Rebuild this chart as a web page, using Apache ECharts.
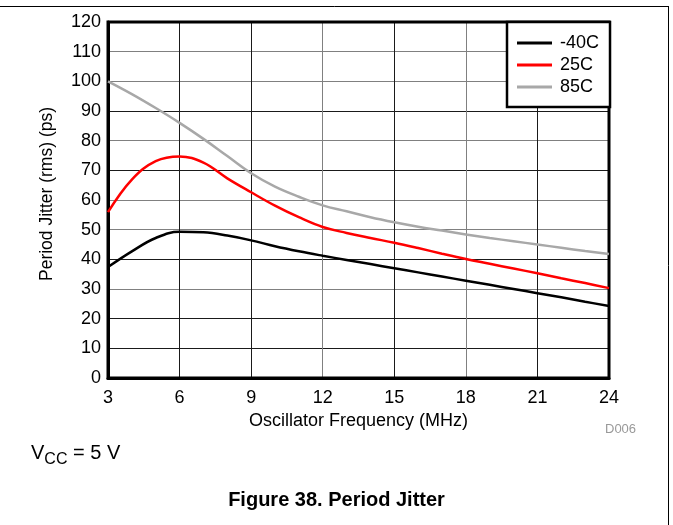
<!DOCTYPE html>
<html>
<head>
<meta charset="utf-8">
<script src="https://cdn.jsdelivr.net/npm/echarts@6/dist/echarts.min.js"></script>
<style>
html,body{margin:0;padding:0;background:#fff;}
#chart{width:673px;height:525px;}
</style>
</head>
<body>
<div id="chart"></div>
<script>
// Data
const freqMHz   = [3, 4, 5, 6, 7, 8, 9, 10, 11, 12, 13, 14, 15, 16, 17, 18, 19, 20, 21, 22, 23, 24];
const jitterM40 = [37.4, 42.7, 47.2, 49.3, 49.1, 48.0, 46.4, 44.4, 42.7, 41.2, 39.8, 38.4, 37.0, 35.6, 34.2, 32.8, 31.4, 30.0, 28.6, 27.2, 25.7, 24.3];
const jitter25  = [55.9, 66.9, 73.1, 74.7, 72.6, 67.3, 62.6, 58.1, 54.2, 50.9, 48.9, 47.2, 45.6, 43.8, 41.9, 40.1, 38.5, 36.9, 35.3, 33.6, 32.0, 30.3];
const jitter85  = [100, 95.7, 91.0, 86.0, 80.6, 74.8, 69.0, 64.5, 61.1, 58.2, 56.2, 54.2, 52.5, 51.0, 49.7, 48.4, 47.2, 46.1, 45.0, 43.9, 42.8, 41.8];
const seriesNames = ['-40C', '25C', '85C'];
const xTicks = [3, 6, 9, 12, 15, 18, 21, 24];
const yTicks = [0, 10, 20, 30, 40, 50, 60, 70, 80, 90, 100, 110, 120];

function pairs(ys) { return freqMHz.map((x, i) => [x, ys[i]]); }

const chart = echarts.init(document.getElementById('chart'));
const F = 'Liberation Sans, Arial, sans-serif';
const K = '#1a1a1a', G = '#808080';

chart.setOption({
  animation: false,
  backgroundColor: '#fff',
  grid: { left: 108, right: 64, top: 22, bottom: 147, show: true, borderColor: '#000', borderWidth: 3, z: 3 },
  legend: {
    data: seriesNames,
    orient: 'vertical',
    left: 507, top: 22,
    icon: 'rect',
    itemWidth: 35, itemHeight: 3,
    itemGap: 4,
    padding: [12, 11, 11, 10],
    backgroundColor: '#fff',
    borderColor: '#000', borderWidth: 2.5,
    textStyle: { fontFamily: F, fontSize: 18, color: '#000', lineHeight: 18, padding: [0, 0, 0, 3] },
    z: 10
  },
  xAxis: {
    type: 'value', min: 3, max: 24, interval: 3,
    name: 'Oscillator Frequency (MHz)', nameLocation: 'middle', nameGap: 32,
    nameTextStyle: { fontFamily: F, fontSize: 18, color: '#000' },
    axisLine: { show: true, lineStyle: { color: '#000', width: 3 } },
    axisTick: { show: false },
    axisLabel: { fontFamily: F, fontSize: 18, color: '#000', margin: 11,
      formatter: v => xTicks.includes(v) ? String(v) : '' },
    splitLine: { show: true, lineStyle: { color: [K, K, K, G, K, G, K, K], width: 1 } }
  },
  yAxis: {
    type: 'value', min: 0, max: 120, interval: 10,
    name: 'Period Jitter (rms) (ps)', nameLocation: 'middle', nameGap: 52,
    nameTextStyle: { fontFamily: F, fontSize: 17.5, color: '#000', padding: [0, 0, 0, 12] },
    axisLine: { show: true, lineStyle: { color: '#000', width: 3 } },
    axisTick: { show: false },
    axisLabel: { fontFamily: F, fontSize: 18, color: '#000', margin: 7,
      formatter: v => yTicks.includes(v) ? String(v) : '' },
    splitLine: { show: true, lineStyle: { color: [K, K, K, G, K, G, G, K, G, K, G, G, K], width: 1 } }
  },
  series: [
    { name: seriesNames[0], type: 'line', data: pairs(jitterM40), smooth: 0.4, showSymbol: false,
      lineStyle: { color: '#000', width: 2.5 }, itemStyle: { color: '#000' }, z: 5 },
    { name: seriesNames[1], type: 'line', data: pairs(jitter25), smooth: 0.4, showSymbol: false,
      lineStyle: { color: '#ff0000', width: 2.5 }, itemStyle: { color: '#ff0000' }, z: 5 },
    { name: seriesNames[2], type: 'line', data: pairs(jitter85), smooth: 0.4, showSymbol: false,
      lineStyle: { color: '#a8a8a8', width: 2.5 }, itemStyle: { color: '#a8a8a8' }, z: 4 }
  ],
  graphic: [
    { type: 'line', shape: { x1: 0, y1: 6.5, x2: 668.5, y2: 6.5 }, style: { stroke: '#000', lineWidth: 1 } },
    { type: 'line', shape: { x1: 668.5, y1: 6, x2: 668.5, y2: 525 }, style: { stroke: '#000', lineWidth: 1 } },
    { type: 'text', left: 605, top: 423, style: { text: 'D006', fontFamily: F, fontSize: 13, fill: '#999' } },
    { type: 'text', left: 31, top: 443, style: {
        text: '{v|V}{s|CC}{v| = 5 V}',
        rich: {
          v: { fontFamily: F, fontSize: 20, fill: '#000', verticalAlign: 'bottom' },
          s: { fontFamily: F, fontSize: 16, fill: '#000', verticalAlign: 'bottom', padding: [0, 0, -5, 0] }
        } } },
    { type: 'text', left: 'center', top: 490, style: { text: 'Figure 38. Period Jitter', fontFamily: F, fontSize: 20, fontWeight: 'bold', fill: '#000' } }
  ]
});
</script>
</body>
</html>
